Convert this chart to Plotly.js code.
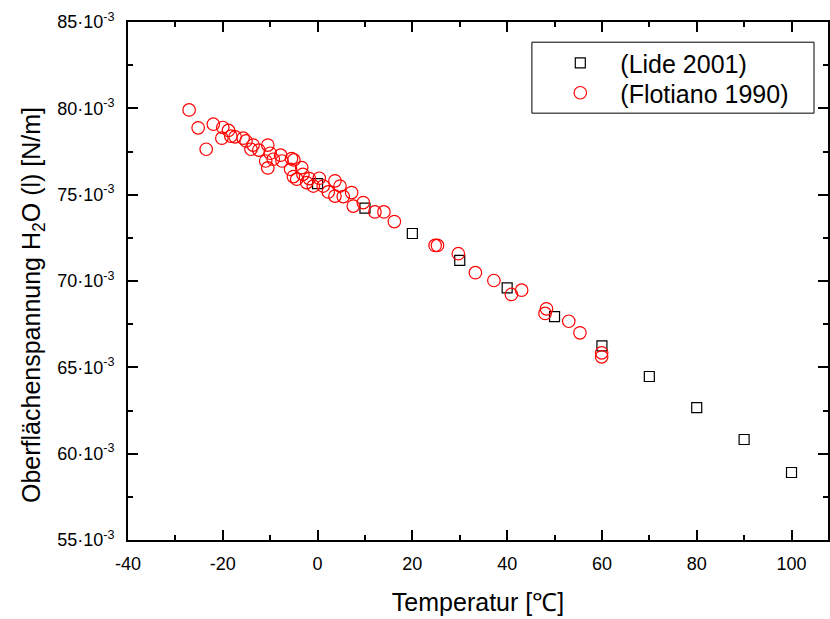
<!DOCTYPE html>
<html>
<head>
<meta charset="utf-8">
<script src="https://cdn.plot.ly/plotly-3.0.1.min.js"></script>
<style>html,body{margin:0;padding:0;background:#fff;}#chart{width:830px;height:619px;}</style>
</head>
<body>
<div id="chart"></div>
<script>
// Lide 2001 (surface tension in 10^-3 N/m)
const lideT = [0, 10, 20, 30, 40, 50, 60, 70, 80, 90, 100];
const lideSigma = [75.64, 74.22, 72.75, 71.20, 69.60, 67.94, 66.24, 64.47, 62.67, 60.82, 58.91];

// Flotiano 1990
const floT = [-27.1, -25.2, -23.5, -22.0, -20.0, -20.2, -18.8, -18.3, -17.4, -15.7, -15.1, -13.6, -14.05, -12.4,
  -10.5, -10.0, -10.95, -10.5, -9.35, -7.8, -7.5, -5.5, -5.0, -5.7, -3.35, -3.1, -5.1, -4.4, -1.75, 0.36, -2.3,
  -0.9, 1.2, 2.26, 3.67, 4.73, 3.67, 5.42, 7.19, 7.53, 9.64, 12.1, 14.0, 16.2, 24.8, 25.3, 29.7, 33.3, 37.2,
  40.9, 43.06, 48.3, 48.0, 53.0, 55.36, 59.94, 59.94];
const floSigma = [79.91, 78.87, 77.63, 79.08, 78.89, 78.27, 78.72, 78.39, 78.35, 78.27, 78.11, 77.87, 77.63, 77.58,
  77.87, 77.40, 76.95, 76.55, 77.05, 77.29, 76.95, 77.09, 77.01, 76.47, 76.57, 76.18, 76.05, 75.9, 75.93, 75.95, 75.70,
  75.5, 75.5, 75.16, 75.8, 75.5, 74.92, 74.89, 75.12, 74.34, 74.54, 74.0, 74.0, 73.44, 72.06, 72.06, 71.58, 70.48, 70.03,
  69.22, 69.47, 68.39, 68.12, 67.67, 67.0, 65.84, 65.61];

const yTickVals = [55, 60, 65, 70, 75, 80, 85];
const yTickText = yTickVals.map(v => v + '·10<sup>-3</sup>');
const xTickVals = [-40, -20, 0, 20, 40, 60, 80, 100];
const xTickText = xTickVals.map(v => String(v));

const FONT = '"Liberation Sans", Arial, sans-serif';

const traces = [
  {x: lideT, y: lideSigma, mode: 'markers', type: 'scatter', name: '(Lide 2001)', legend: 'legend',
   marker: {symbol: 'square-open', size: 10, color: '#000', line: {width: 1.2, color: '#000'}}},
  {x: floT, y: floSigma, mode: 'markers', type: 'scatter', name: '(Flotiano 1990)', legend: 'legend2',
   marker: {symbol: 'circle-open', size: 12.5, color: '#ff0000', line: {width: 1.2, color: '#ff0000'}}}
];

const axisCommon = {
  showline: true, linecolor: '#000', linewidth: 2, mirror: 'ticks',
  ticks: 'inside', ticklen: 10, tickwidth: 2, tickcolor: '#000',
  showgrid: false, zeroline: false,
  tickfont: {family: FONT, size: 18, color: '#000'}
};

const legendCommon = {
  xanchor: 'left', yanchor: 'middle', x: 0.589,
  bgcolor: 'rgba(255,255,255,0)', borderwidth: 0,
  font: {family: FONT, size: 25, color: '#000'}, itemwidth: 70
};

const layout = {
  width: 830, height: 619,
  margin: {l: 128, r: 2, t: 22, b: 79},
  paper_bgcolor: '#fff', plot_bgcolor: '#fff',
  font: {family: FONT, color: '#000'},
  xaxis: Object.assign({}, axisCommon, {
    range: [-40, 107.7], tickvals: xTickVals, ticktext: xTickText, ticklabelstandoff: 6,
    minor: {ticks: 'inside', ticklen: 5, tickwidth: 2, tickcolor: '#000', dtick: 10, tick0: 0},
    title: {text: 'Temperatur [℃]', font: {family: FONT, size: 25, color: '#000'}, standoff: 21}
  }),
  yaxis: Object.assign({}, axisCommon, {
    range: [55, 85], tickvals: yTickVals, ticktext: yTickText, ticklabelstandoff: 8,
    minor: {ticks: 'inside', ticklen: 5, tickwidth: 2, tickcolor: '#000', dtick: 2.5, tick0: 55}
  }),
  annotations: [{
    text: 'Oberflächenspannung H<sub>2</sub>O (l) [N/m]', textangle: -90,
    xref: 'paper', yref: 'paper', x: -0.1357, y: 0.4537, xanchor: 'center', yanchor: 'middle',
    showarrow: false, font: {family: FONT, size: 25, color: '#000'}
  }],
  showlegend: true,
  legend: Object.assign({}, legendCommon, {y: 0.9208}),
  legend2: Object.assign({}, legendCommon, {y: 0.8629}),
  shapes: [{type: 'rect', xref: 'paper', yref: 'paper', x0: 0.577, x1: 0.98, y0: 0.824, y1: 0.961,
    line: {color: '#000', width: 1}, fillcolor: 'rgba(0,0,0,0)'}]
};

Plotly.newPlot('chart', traces, layout, {displayModeBar: false, staticPlot: true});
</script>
</body>
</html>
